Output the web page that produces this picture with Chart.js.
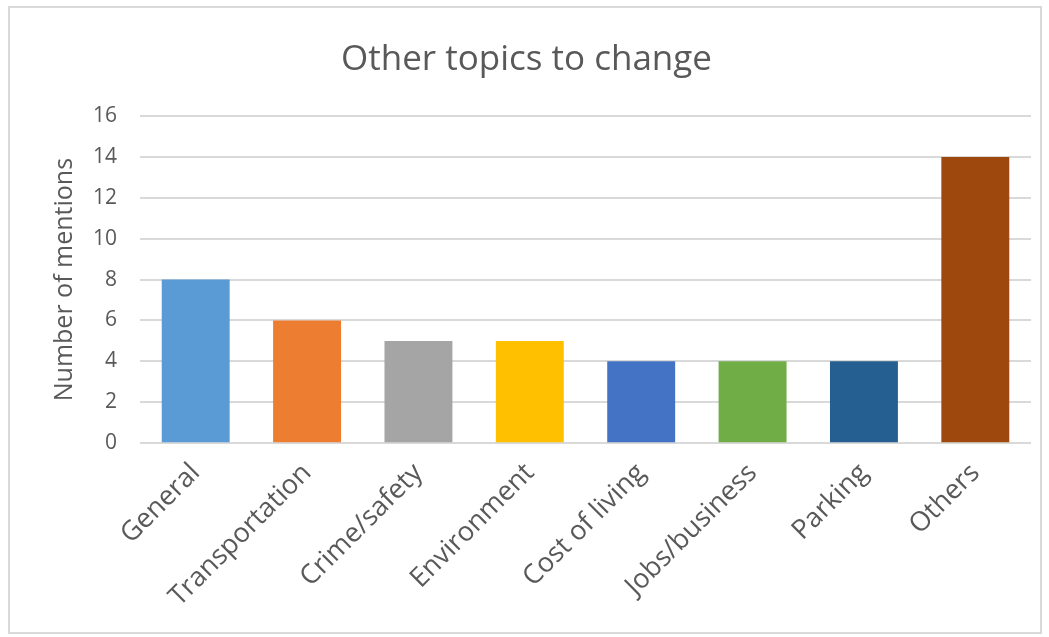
<!DOCTYPE html>
<html>
<head>
<meta charset="utf-8">
<script src="https://cdn.jsdelivr.net/npm/chart.js@4/dist/chart.umd.min.js"></script>
<style>
  html, body { margin: 0; padding: 0; background: #fff; }
  #frame { position: absolute; left: 8px; top: 6px; width: 1030px; height: 624px; border: 2px solid #d9d9d9; }
  #wrap { position: absolute; left: 0; top: 0; width: 1049px; height: 637px; }
</style>
</head>
<body>
<div id="frame"></div>
<div id="wrap"><canvas id="chart"></canvas></div>
<script>
// categories and counts
const topics = ['General', 'Transportation', 'Crime/safety', 'Environment', 'Cost of living', 'Jobs/business', 'Parking', 'Others'];
const mentions = [8, 6, 5, 5, 4, 4, 4, 14];
const barColors = ['#5B9BD5', '#ED7D31', '#A5A5A5', '#FFC000', '#4472C4', '#70AD47', '#255E91', '#9E480E'];

const textColor = '#595959';
const fontFamily = '"Open Sans", "Noto Sans", sans-serif';

const ctx = document.getElementById('chart').getContext('2d');
new Chart(ctx, {
    type: 'bar',
    data: {
        labels: topics,
        datasets: [{
            data: mentions,
            backgroundColor: barColors,
            categoryPercentage: 1,
            barPercentage: 0.61
        }]
    },
    options: {
        responsive: true,
        maintainAspectRatio: false,
        animation: false,
        layout: { padding: { left: 22, right: 18, top: 39, bottom: 18 } },
        plugins: {
            legend: { display: false },
            tooltip: { enabled: false },
            title: {
                display: true,
                text: 'Other topics to change',
                color: textColor,
                font: { family: fontFamily, size: 35, weight: 'normal' },
                padding: { top: 0, bottom: 35 }
            }
        },
        scales: {
            x: {
                grid: { display: false },
                border: { display: false },
                ticks: {
                    color: textColor,
                    font: { family: fontFamily, size: 27 },
                    minRotation: 45,
                    maxRotation: 45,
                    padding: 6
                }
            },
            y: {
                min: 0,
                max: 16,
                ticks: {
                    stepSize: 2,
                    color: textColor,
                    font: { family: fontFamily, size: 21 },
                    padding: 23
                },
                grid: { color: '#d9d9d9', lineWidth: 2, drawTicks: false },
                border: { display: false },
                title: {
                    display: true,
                    text: 'Number of mentions',
                    color: textColor,
                    font: { family: fontFamily, size: 25 },
                    padding: { top: 28, bottom: -10 }
                }
            }
        }
    }
});
</script>
</body>
</html>
